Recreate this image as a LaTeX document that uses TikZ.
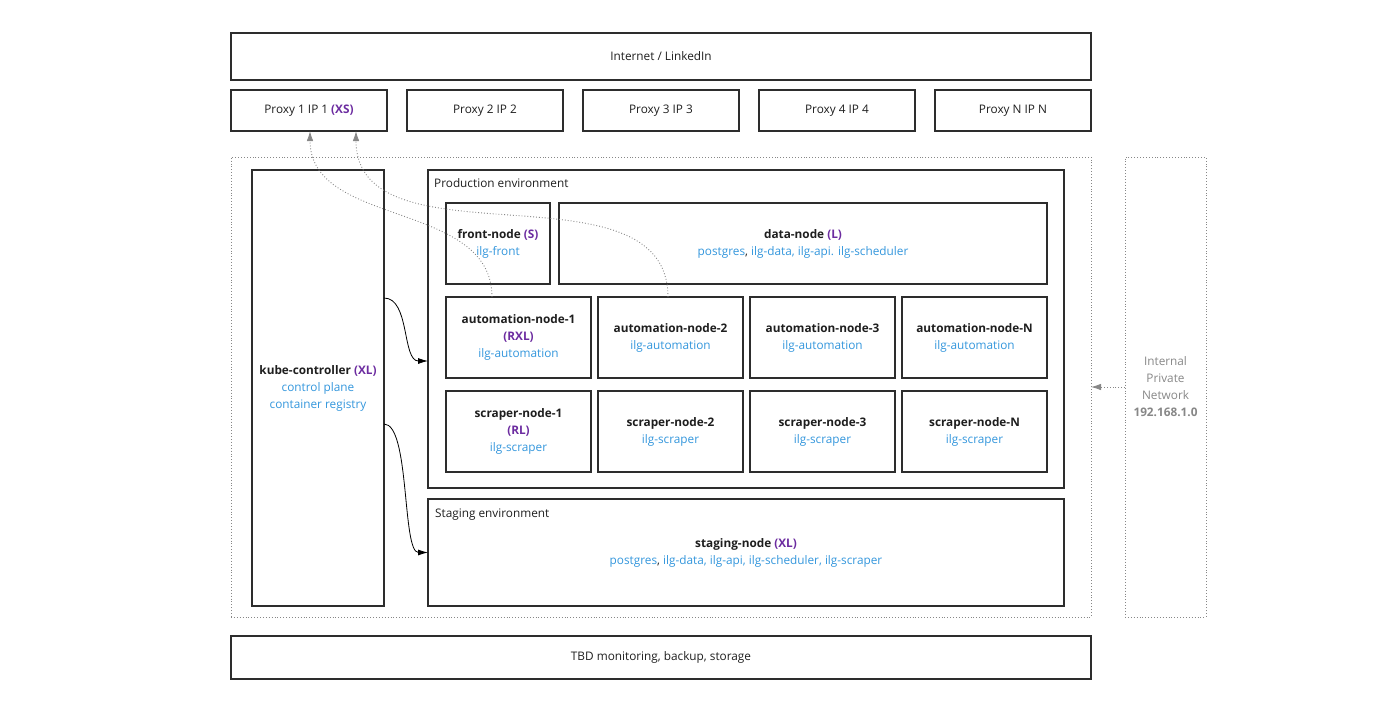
\documentclass[tikz,border=0pt]{standalone}
\usepackage{fontspec}
\setmainfont{Open Sans}
\usetikzlibrary{positioning,arrows.meta}
\definecolor{nodeblue}{RGB}{51,150,220}
\definecolor{nodepurple}{RGB}{108,44,160}
\definecolor{linegray}{RGB}{45,45,45}
\definecolor{dotgray}{RGB}{135,135,135}
\definecolor{textdark}{RGB}{30,30,30}
\tikzstyle{block} = [rectangle, draw=linegray, line width=1.5pt, text=textdark,
    align=center, inner sep=2pt, outer sep=0pt]
\tikzstyle{frame} = [rectangle, draw=dotgray, dotted, line width=0.9pt, outer sep=0pt]
\tikzstyle{label} = [text=textdark, inner sep=0pt, anchor=west]
\tikzstyle{line} = [draw=black, line width=0.8pt, -{Latex[length=10pt,width=6pt]}]
\tikzstyle{link} = [draw=dotgray, dotted, line width=0.9pt, -{Latex[length=10pt,width=6.5pt]}]

\begin{document}
\begin{tikzpicture}[x=1pt, y=-1pt, font=\fontsize{11.8}{17}\selectfont]
  \useasboundingbox (0,0) rectangle (1385,721);
  % outside world
  \node [block, anchor=north west, minimum width=860pt, minimum height=47pt] at (231,33) (internet) {Internet / LinkedIn};
  \node [block, anchor=north west, minimum width=156pt, minimum height=41pt] at (231,90) (proxy_1)
    {Proxy 1 IP 1 \textbf{\textcolor{nodepurple}{(XS)}}};
  \node [block, right=20pt of proxy_1, minimum width=156pt, minimum height=41pt] (proxy_2) {Proxy 2 IP 2};
  \node [block, right=20pt of proxy_2, minimum width=156pt, minimum height=41pt] (proxy_3) {Proxy 3 IP 3};
  \node [block, right=20pt of proxy_3, minimum width=156pt, minimum height=41pt] (proxy_4) {Proxy 4 IP 4};
  \node [block, right=20pt of proxy_4, minimum width=156pt, minimum height=41pt] (proxy_n) {Proxy N IP N};
  % cluster
  \node [frame, anchor=north west, minimum width=860pt, minimum height=460pt] at (231,157) (cluster) {};
  \node [block, anchor=north west, minimum width=132pt, minimum height=436pt] at (252,170) (kube_ctrl)
    {\textbf{kube-controller \textcolor{nodepurple}{(XL)}}\\
     \textcolor{nodeblue}{control plane}\\ \textcolor{nodeblue}{container registry}};
  \node [block, anchor=north west, minimum width=636pt, minimum height=318pt] at (428,170) (prod_env) {};
  \node [label] at ([xshift=6pt,yshift=-13pt]prod_env.north west) (prod_label) {Production environment};
  \node [block, anchor=north west, minimum width=104pt, minimum height=81pt] at (446,203) (front_node)
    {\textbf{front-node \textcolor{nodepurple}{(S)}}\\ \textcolor{nodeblue}{ilg-front}};
  \node [block, right=9pt of front_node, minimum width=488pt, minimum height=81pt] (data_node)
    {\textbf{data-node \textcolor{nodepurple}{(L)}}\\
     \textcolor{nodeblue}{postgres}, \textcolor{nodeblue}{ilg-data, ilg-api. ilg-scheduler}};
  \node [block, below=13pt of front_node.south west, anchor=north west, minimum width=145pt, minimum height=81pt] (auto_1)
    {\textbf{automation-node-1}\\ \textbf{\textcolor{nodepurple}{(RXL)}}\\ \textcolor{nodeblue}{ilg-automation}};
  \node [block, right=7pt of auto_1, minimum width=145pt, minimum height=81pt] (auto_2)
    {\textbf{automation-node-2}\\ \textcolor{nodeblue}{ilg-automation}};
  \node [block, right=7pt of auto_2, minimum width=145pt, minimum height=81pt] (auto_3)
    {\textbf{automation-node-3}\\ \textcolor{nodeblue}{ilg-automation}};
  \node [block, right=7pt of auto_3, minimum width=145pt, minimum height=81pt] (auto_n)
    {\textbf{automation-node-N}\\ \textcolor{nodeblue}{ilg-automation}};
  \node [block, below=13pt of auto_1, minimum width=145pt, minimum height=81pt] (scraper_1)
    {\textbf{scraper-node-1}\\ \textbf{\textcolor{nodepurple}{(RL)}}\\ \textcolor{nodeblue}{ilg-scraper}};
  \node [block, right=7pt of scraper_1, minimum width=145pt, minimum height=81pt] (scraper_2)
    {\textbf{scraper-node-2}\\ \textcolor{nodeblue}{ilg-scraper}};
  \node [block, right=7pt of scraper_2, minimum width=145pt, minimum height=81pt] (scraper_3)
    {\textbf{scraper-node-3}\\ \textcolor{nodeblue}{ilg-scraper}};
  \node [block, right=7pt of scraper_3, minimum width=145pt, minimum height=81pt] (scraper_n)
    {\textbf{scraper-node-N}\\ \textcolor{nodeblue}{ilg-scraper}};
  \node [block, anchor=north west, minimum width=636pt, minimum height=107pt] at (428,499) (staging_env)
    {\textbf{staging-node \textcolor{nodepurple}{(XL)}}\\
     \textcolor{nodeblue}{postgres}, \textcolor{nodeblue}{ilg-data, ilg-api, ilg-scheduler, ilg-scraper}};
  \node [label] at ([xshift=7pt,yshift=-16pt]staging_env.north west) (staging_label) {Staging environment};
  % network and extras
  \node [frame, anchor=north west, minimum width=81pt, minimum height=460pt, align=center, text=dotgray] at (1125,157) (private_net)
    {Internal\\ Private\\ Network\\ \textbf{192.168.1.0}};
  \node [block, anchor=north west, minimum width=860pt, minimum height=43pt] at (231,636) (tbd)
    {TBD monitoring, backup, storage};
  % connectors
  \path [line] ([yshift=90pt]kube_ctrl.east) .. controls +(26pt,0pt) and +(-26pt,0pt) .. ([yshift=-32pt]prod_env.west);
  \path [line] ([yshift=-36pt]kube_ctrl.east) .. controls +(26pt,0pt) and +(-26pt,0pt) .. (staging_env.west);
  \path [link] ([xshift=-26.5pt]auto_1.north) to[out=90, in=-90] ([xshift=1pt]proxy_1.south);
  \path [link] ([xshift=-2.5pt]auto_2.north) to[out=90, in=-90] ([xshift=47pt]proxy_1.south);
  \path [link] (private_net.west) -- (cluster.east);
\end{tikzpicture}
\end{document}
